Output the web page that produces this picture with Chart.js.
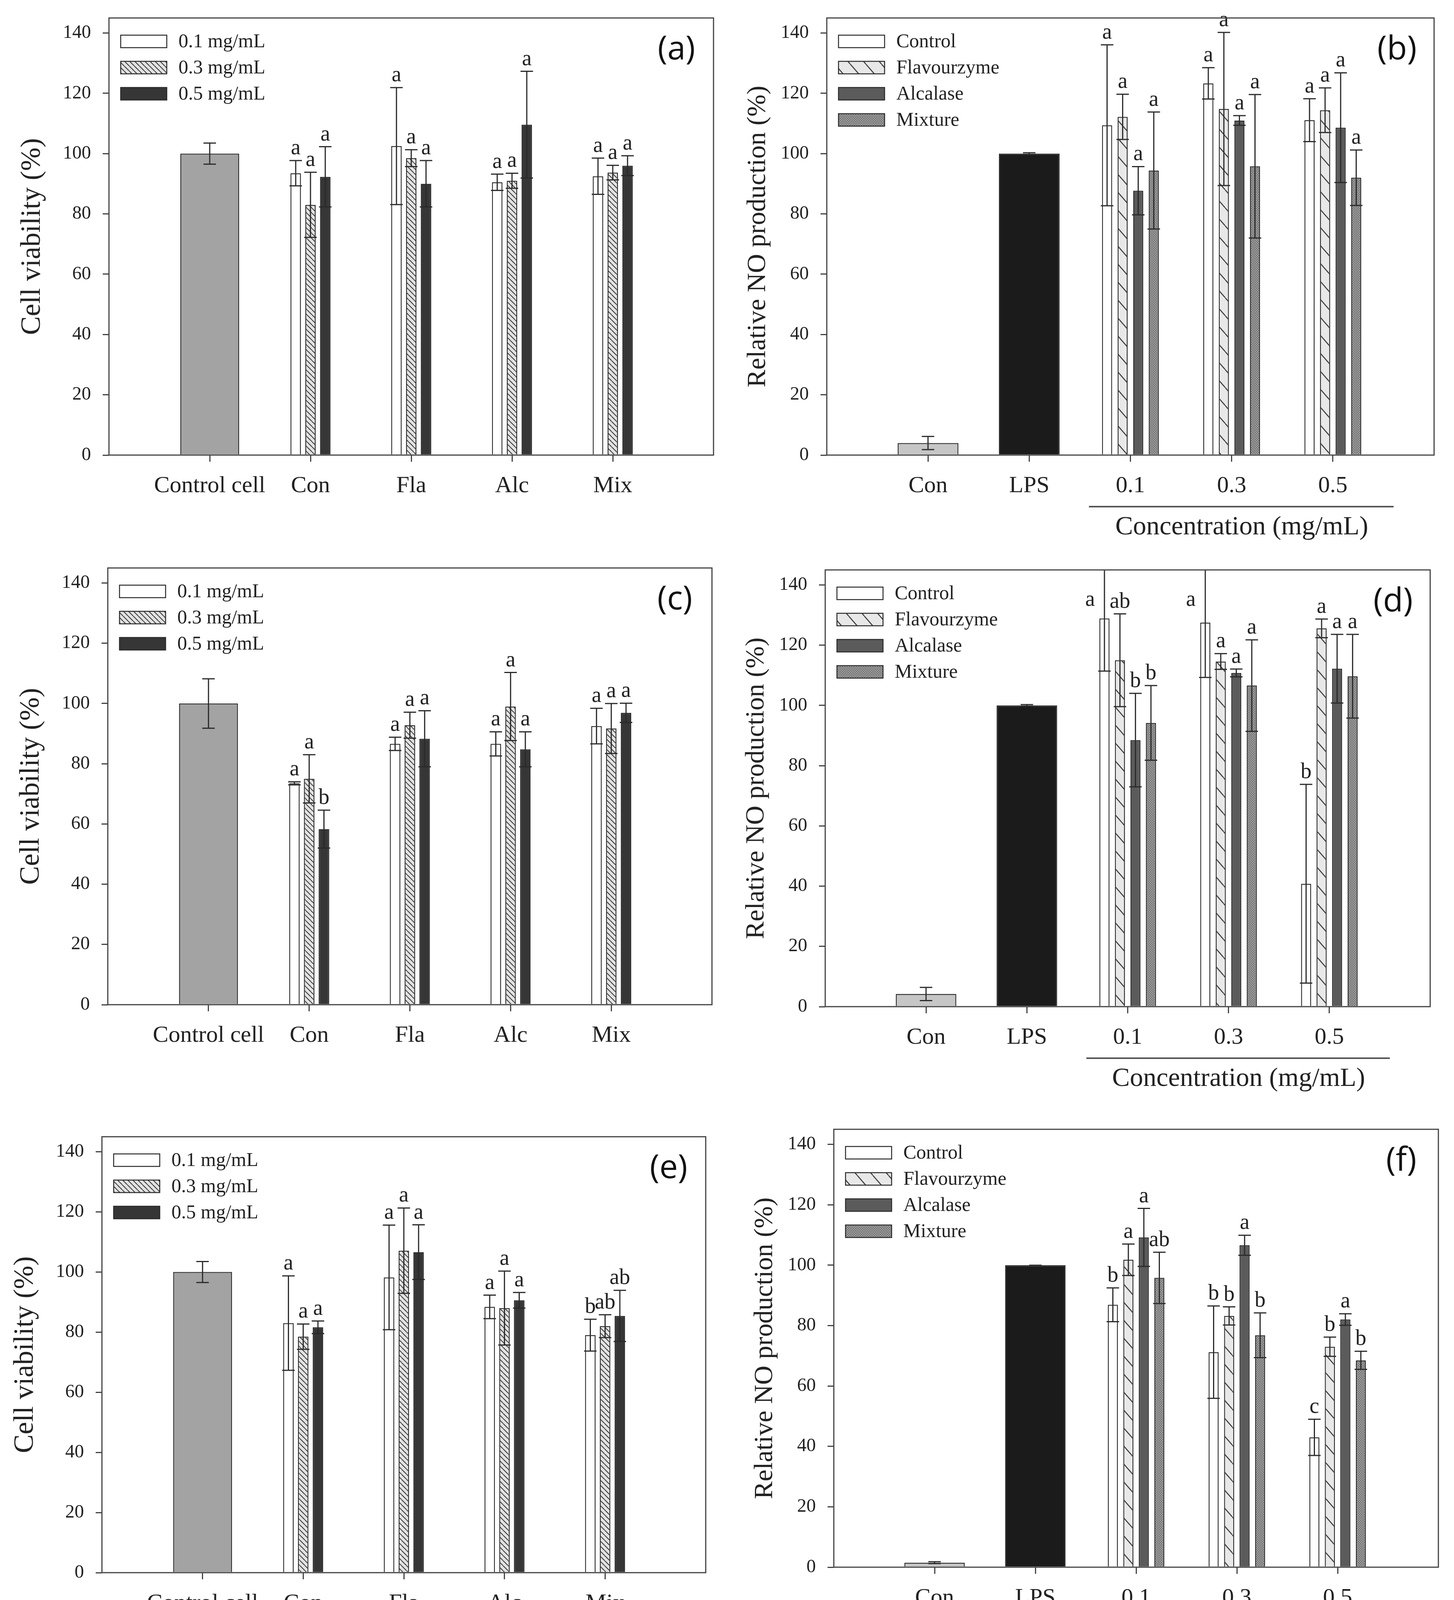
<!DOCTYPE html>
<html>
<head>
<meta charset="utf-8">
<script src="https://cdn.jsdelivr.net/npm/chart.js@4.4.0/dist/chart.umd.min.js"></script>
<style>
  body { margin: 0; background: #fff; width: 3723px; height: 4271px; position: relative; overflow: hidden; }
  canvas { position: absolute; }
</style>
</head>
<body>
<canvas id="pa"></canvas>
<canvas id="pb"></canvas>
<canvas id="pc"></canvas>
<canvas id="pd"></canvas>
<canvas id="pe"></canvas>
<canvas id="pf"></canvas>
<script>
// categories and series names
const viabLabels = ['Control cell', 'Con', 'Fla', 'Alc', 'Mix'];
const noLabels = ['Con', 'LPS', '0.1', '0.3', '0.5'];
const viabSeries = ['0.1 mg/mL', '0.3 mg/mL', '0.5 mg/mL'];
const noSeries = ['Control', 'Flavourzyme', 'Alcalase', 'Mixture'];
const yMax = 145, yStep = 20;

// (a) cell viability
const aCtrl = [100], aCtrlErr = [3.5];
const a01 = [93.5, 102.5, 90.5, 92.5], a01Err = [4.2, 19.4, 2.7, 6.0], a01Sig = ['a', 'a', 'a', 'a'];
const a03 = [83, 98.5, 91, 93.7], a03Err = [10.8, 2.8, 2.5, 2.4], a03Sig = ['a', 'a', 'a', 'a'];
const a05 = [92.3, 90, 109.6, 96], a05Err = [10, 7.7, 17.7, 3.3], a05Sig = ['a', 'a', 'a', 'a'];

// (b) relative NO production
const bConLps = [4, 100], bConLpsErr = [2.2, 0.3];
const bCtl = [109.4, 123.3, 111.1], bCtlErr = [26.7, 5.2, 7.1], bCtlSig = ['a', 'a', 'a'];
const bFla = [112.2, 114.8, 114.4], bFlaErr = [7.5, 25.4, 7.4], bFlaSig = ['a', 'a', 'a'];
const bAlc = [87.7, 111, 108.6], bAlcErr = [8, 1.6, 18.2], bAlcSig = ['a', 'a', 'a'];
const bMix = [94.4, 95.8, 92], bMixErr = [19.4, 23.8, 9.2], bMixSig = ['a', 'a', 'a'];

// (c) cell viability
const cCtrl = [100], cCtrlErr = [8.2];
const c01 = [73.5, 86.6, 86.6, 92.5], c01Err = [0.5, 2.2, 4, 5.9], c01Sig = ['a', 'a', 'a', 'a'];
const c03 = [75, 92.8, 99, 91.7], c03Err = [8, 4.3, 11.3, 8.3], c03Sig = ['a', 'a', 'a', 'a'];
const c05 = [58.3, 88.3, 84.8, 96.9], c05Err = [6.3, 9.3, 5.8, 3.2], c05Sig = ['b', 'a', 'a', 'a'];

// (d) relative NO production
const dConLps = [4.2, 100], dConLpsErr = [2.2, 0.3];
const dCtl = [128.9, 127.5, 40.8], dCtlErr = [17.5, 18.2, 33], dCtlSig = ['a', 'a', 'b'];
const dFla = [115, 114.6, 125.6], dFlaErr = [15.4, 2.6, 3.1], dFlaSig = ['ab', 'a', 'a'];
const dAlc = [88.5, 110.8, 112.2], dAlcErr = [15.5, 1.3, 11.4], dAlcSig = ['b', 'a', 'a'];
const dMix = [94.2, 106.6, 109.7], dMixErr = [12.4, 15.2, 13.9], dMixSig = ['b', 'a', 'a'];

// (e) cell viability
const eCtrl = [100], eCtrlErr = [3.5];
const e01 = [83, 98.2, 88.4, 79], e01Err = [15.7, 17.4, 3.9, 5.3], e01Sig = ['a', 'a', 'a', 'b'];
const e03 = [78.5, 107.1, 88, 82], e03Err = [4.2, 14.2, 12.3, 3.8], e03Sig = ['a', 'a', 'a', 'ab'];
const e05 = [81.6, 106.6, 90.6, 85.4], e05Err = [2.1, 9.1, 2.6, 8.5], e05Sig = ['a', 'a', 'a', 'ab'];

// (f) relative NO production
const fConLps = [1.5, 100], fConLpsErr = [0.3, 0];
const fCtl = [86.9, 71.2, 43], fCtlErr = [5.6, 15.3, 6], fCtlSig = ['b', 'b', 'c'];
const fFla = [101.8, 83.2, 73], fFlaErr = [5.2, 3, 3.2], fFlaSig = ['a', 'b', 'b'];
const fAlc = [109.2, 106.6, 82], fAlcErr = [9.6, 3.3, 1.9], fAlcSig = ['a', 'a', 'a'];
const fMix = [95.8, 76.8, 68.5], fMixErr = [8.5, 7.4, 3], fMixSig = ['ab', 'b', 'b'];

Chart.defaults.font.family = '"Liberation Serif", "Times New Roman", serif';
Chart.defaults.color = '#222';

const SERIF = '"Liberation Serif", "Times New Roman", serif';
const AXW = 260, PADT = 20, PADR = 20;

// fill patterns
function hatch(w, h, bg, fg, lw) {
  const c = document.createElement('canvas');
  c.width = w; c.height = h;
  const g = c.getContext('2d');
  g.fillStyle = bg; g.fillRect(0, 0, w, h);
  g.strokeStyle = fg; g.lineWidth = lw;
  g.beginPath();
  for (let k = -1; k <= 1; k++) { g.moveTo(k * w, 0); g.lineTo(k * w + w, h); }
  g.stroke();
  return g.createPattern(c, 'repeat');
}
function stipple() {
  const c = document.createElement('canvas');
  c.width = 6; c.height = 6;
  const g = c.getContext('2d');
  g.fillStyle = '#979797'; g.fillRect(0, 0, 6, 6);
  g.fillStyle = '#5a5a5a'; g.fillRect(0, 0, 2, 2); g.fillRect(3, 3, 2, 2);
  return g.createPattern(c, 'repeat');
}
const dense = hatch(13, 13, '#e2e2e2', '#333', 2);
const sparse = hatch(40, 46, '#e8e8e8', '#3a3a3a', 2.5);
const dots = stipple();

// slot helpers: index 0 and 6 are empty padding slots
const fullViab = ['', ...viabLabels, ''];
const fullNo = ['', ...noLabels, ''];
const viabGroup = v => [null, null, ...v, null];
const viabCtrl = v => [null, v[0], null, null, null, null, null];
const noGroup = v => [null, null, null, ...v, null];
const noCtrl = v => [null, v[0], v[1], null, null, null, null];

const barBase = { borderColor: '#2a2a2a', borderWidth: 2.5 };

function viabSets(ctrl, ctrlErr, s1, e1, g1, s3, e3, g3, s5, e5, g5) {
  return [
    { ...barBase, label: 'Control cell', data: viabCtrl(ctrl), errorBars: viabCtrl(ctrlErr), sigLetters: [],
      backgroundColor: '#a3a3a3', grouped: false, categoryPercentage: 1, barPercentage: 0.585 },
    { ...barBase, label: viabSeries[0], data: viabGroup(s1), errorBars: viabGroup(e1), sigLetters: viabGroup(g1),
      backgroundColor: '#ffffff', categoryPercentage: 0.44, barPercentage: 0.71 },
    { ...barBase, label: viabSeries[1], data: viabGroup(s3), errorBars: viabGroup(e3), sigLetters: viabGroup(g3),
      backgroundColor: dense, categoryPercentage: 0.44, barPercentage: 0.71 },
    { ...barBase, label: viabSeries[2], data: viabGroup(s5), errorBars: viabGroup(e5), sigLetters: viabGroup(g5),
      backgroundColor: '#363636', categoryPercentage: 0.44, barPercentage: 0.71 }
  ];
}

function noSets(cl, clErr, sets) {
  const fills = ['#ffffff', sparse, '#5b5b5b', dots];
  const out = [
    { ...barBase, label: 'Con/LPS', data: noCtrl(cl), errorBars: noCtrl(clErr), sigLetters: [],
      backgroundColor: ['#fff', '#c6c6c6', '#1b1b1b', '#fff', '#fff', '#fff', '#fff'],
      grouped: false, categoryPercentage: 1, barPercentage: 0.6 }
  ];
  sets.forEach((s, i) => out.push({
    ...barBase, label: noSeries[i], data: noGroup(s[0]), errorBars: noGroup(s[1]), sigLetters: noGroup(s[2]),
    backgroundColor: fills[i], categoryPercentage: 0.615, barPercentage: 0.65
  }));
  return out;
}

// error bars, letters, frame, legend, panel tag
const deco = {
  id: 'deco',
  afterDatasetsDraw(chart) {
    const ctx = chart.ctx, ys = chart.scales.y, ca = chart.chartArea;
    ctx.save();
    chart.data.datasets.forEach((ds, di) => {
      const meta = chart.getDatasetMeta(di);
      meta.data.forEach((bar, i) => {
        const v = ds.data[i];
        if (v == null) return;
        const e = ds.errorBars[i] || 0;
        const x = bar.x, w = bar.width;
        const cap = 16;
        const yt = ys.getPixelForValue(v + e), yb = ys.getPixelForValue(v - e);
        ctx.strokeStyle = '#2a2a2a';
        ctx.lineWidth = 3;
        ctx.beginPath();
        ctx.moveTo(x, yb); ctx.lineTo(x, Math.max(yt, ca.top));
        ctx.moveTo(x - cap, yb); ctx.lineTo(x + cap, yb);
        if (yt >= ca.top) { ctx.moveTo(x - cap, yt); ctx.lineTo(x + cap, yt); }
        ctx.stroke();
        const s = ds.sigLetters[i];
        if (s) {
          ctx.font = '56px ' + SERIF;
          ctx.fillStyle = '#222';
          ctx.textAlign = 'center';
          if (yt < ca.top) {
            ctx.textBaseline = 'middle';
            ctx.fillText(s, x - w / 2 - 24, ys.getPixelForValue(yMax - 10));
          } else {
            ctx.textBaseline = 'alphabetic';
            ctx.fillText(s, x, yt - 16);
          }
        }
      });
    });
    ctx.restore();
  },
  afterDraw(chart, args, o) {
    const ctx = chart.ctx, ca = chart.chartArea, xs = chart.scales.x;
    ctx.save();
    ctx.strokeStyle = '#444';
    ctx.lineWidth = 3;
    ctx.strokeRect(ca.left, ca.top, ca.right - ca.left, ca.bottom - ca.top);

    // legend
    o.legend.forEach((di, r) => {
      const ds = chart.data.datasets[di];
      const cy = ca.top + 60 + 67 * r;
      ctx.fillStyle = ds.backgroundColor;
      ctx.fillRect(ca.left + 30, cy - 16, 118, 32);
      ctx.strokeStyle = '#2a2a2a';
      ctx.lineWidth = 2.5;
      ctx.strokeRect(ca.left + 30, cy - 16, 118, 32);
      ctx.fillStyle = '#222';
      ctx.font = '50px ' + SERIF;
      ctx.textAlign = 'left';
      ctx.textBaseline = 'middle';
      ctx.fillText(ds.label, ca.left + 178, cy + 2);
    });

    // panel tag
    ctx.font = '84px "Open Sans", sans-serif';
    ctx.fillStyle = '#111';
    ctx.textAlign = 'center';
    ctx.textBaseline = 'middle';
    ctx.fillText(o.tag, ca.right - 95, ca.top + 82);

    // concentration bracket under 0.1-0.5
    if (o.conc) {
      const step = xs.getPixelForValue(4) - xs.getPixelForValue(3);
      const x0 = xs.getPixelForValue(3) - 0.41 * step;
      const x1 = xs.getPixelForValue(5) + 0.6 * step;
      ctx.strokeStyle = '#555';
      ctx.lineWidth = 4;
      ctx.beginPath();
      ctx.moveTo(x0, ca.bottom + 132); ctx.lineTo(x1, ca.bottom + 132);
      ctx.stroke();
      ctx.fillStyle = '#222';
      ctx.font = '68px ' + SERIF;
      ctx.fillText('Concentration (mg/mL)', xs.getPixelForValue(4) + 0.1 * step, ca.bottom + 185);
    }
    ctx.restore();
  }
};

function drawPanel(p) {
  const cv = document.getElementById(p.id);
  const left = p.L - AXW, top = p.T - PADT;
  const w = p.R + PADR - left, h = p.B + p.bottom - top;
  cv.width = w; cv.height = h;
  cv.style.left = left + 'px'; cv.style.top = top + 'px';
  cv.style.width = w + 'px'; cv.style.height = h + 'px';
  new Chart(cv, {
    type: 'bar',
    data: { labels: p.labels, datasets: p.datasets },
    options: {
      responsive: false,
      animation: false,
      devicePixelRatio: 1,
      layout: { padding: { left: 0, top: PADT, right: PADR, bottom: 0 } },
      plugins: {
        legend: { display: false },
        tooltip: { enabled: false },
        deco: { tag: p.tag, legend: p.legend, conc: p.conc }
      },
      scales: {
        x: {
          offset: false,
          ticks: { font: { size: 60 }, color: '#222', padding: 26, maxRotation: 0, autoSkip: false },
          grid: {
            offset: false, drawOnChartArea: false, tickLength: 17, lineWidth: 3,
            color: c => (c.index === 0 || c.index === 6) ? 'rgba(0,0,0,0)' : '#444'
          },
          border: { display: false },
          afterFit: s => { s.height = p.bottom; s.paddingLeft = 0; s.paddingRight = 0; }
        },
        y: {
          min: 0, max: yMax,
          ticks: { stepSize: yStep, includeBounds: false, font: { size: 48 }, color: '#222', padding: 30 },
          grid: { drawOnChartArea: false, tickLength: 16, lineWidth: 3, color: '#444' },
          border: { display: false },
          title: {
            display: true, text: p.yTitle, color: '#222',
            font: { size: p.yTitleSize }, padding: { top: p.yTitlePad, bottom: 0 }
          },
          afterFit: s => { s.width = AXW; s.paddingTop = 0; s.paddingBottom = 0; }
        }
      }
    },
    plugins: [deco]
  });
}

const viabTitle = 'Cell viability (%)';
const noTitle = 'Relative NO production (%)';

drawPanel({ id: 'pa', tag: '(a)', L: 279, R: 1827, T: 46, B: 1165, bottom: 130,
  labels: fullViab, legend: [1, 2, 3], conc: false,
  yTitle: viabTitle, yTitleSize: 72, yTitlePad: 21,
  datasets: viabSets(aCtrl, aCtrlErr, a01, a01Err, a01Sig, a03, a03Err, a03Sig, a05, a05Err, a05Sig) });

drawPanel({ id: 'pb', tag: '(b)', L: 2117, R: 3672, T: 46, B: 1165, bottom: 250,
  labels: fullNo, legend: [1, 2, 3, 4], conc: true,
  yTitle: noTitle, yTitleSize: 68, yTitlePad: 43,
  datasets: noSets(bConLps, bConLpsErr, [[bCtl, bCtlErr, bCtlSig], [bFla, bFlaErr, bFlaSig], [bAlc, bAlcErr, bAlcSig], [bMix, bMixErr, bMixSig]]) });

drawPanel({ id: 'pc', tag: '(c)', L: 276, R: 1823, T: 1454, B: 2572, bottom: 130,
  labels: fullViab, legend: [1, 2, 3], conc: false,
  yTitle: viabTitle, yTitleSize: 72, yTitlePad: 21,
  datasets: viabSets(cCtrl, cCtrlErr, c01, c01Err, c01Sig, c03, c03Err, c03Sig, c05, c05Err, c05Sig) });

drawPanel({ id: 'pd', tag: '(d)', L: 2113, R: 3662, T: 1459, B: 2577, bottom: 250,
  labels: fullNo, legend: [1, 2, 3, 4], conc: true,
  yTitle: noTitle, yTitleSize: 68, yTitlePad: 43,
  datasets: noSets(dConLps, dConLpsErr, [[dCtl, dCtlErr, dCtlSig], [dFla, dFlaErr, dFlaSig], [dAlc, dAlcErr, dAlcSig], [dMix, dMixErr, dMixSig]]) });

drawPanel({ id: 'pe', tag: '(e)', L: 261, R: 1807, T: 2910, B: 4026, bottom: 130,
  labels: fullViab, legend: [1, 2, 3], conc: false,
  yTitle: viabTitle, yTitleSize: 72, yTitlePad: 21,
  datasets: viabSets(eCtrl, eCtrlErr, e01, e01Err, e01Sig, e03, e03Err, e03Sig, e05, e05Err, e05Sig) });

drawPanel({ id: 'pf', tag: '(f)', L: 2135, R: 3683, T: 2891, B: 4012, bottom: 250,
  labels: fullNo, legend: [1, 2, 3, 4], conc: true,
  yTitle: noTitle, yTitleSize: 68, yTitlePad: 43,
  datasets: noSets(fConLps, fConLpsErr, [[fCtl, fCtlErr, fCtlSig], [fFla, fFlaErr, fFlaSig], [fAlc, fAlcErr, fAlcSig], [fMix, fMixErr, fMixSig]]) });
</script>
</body>
</html>
